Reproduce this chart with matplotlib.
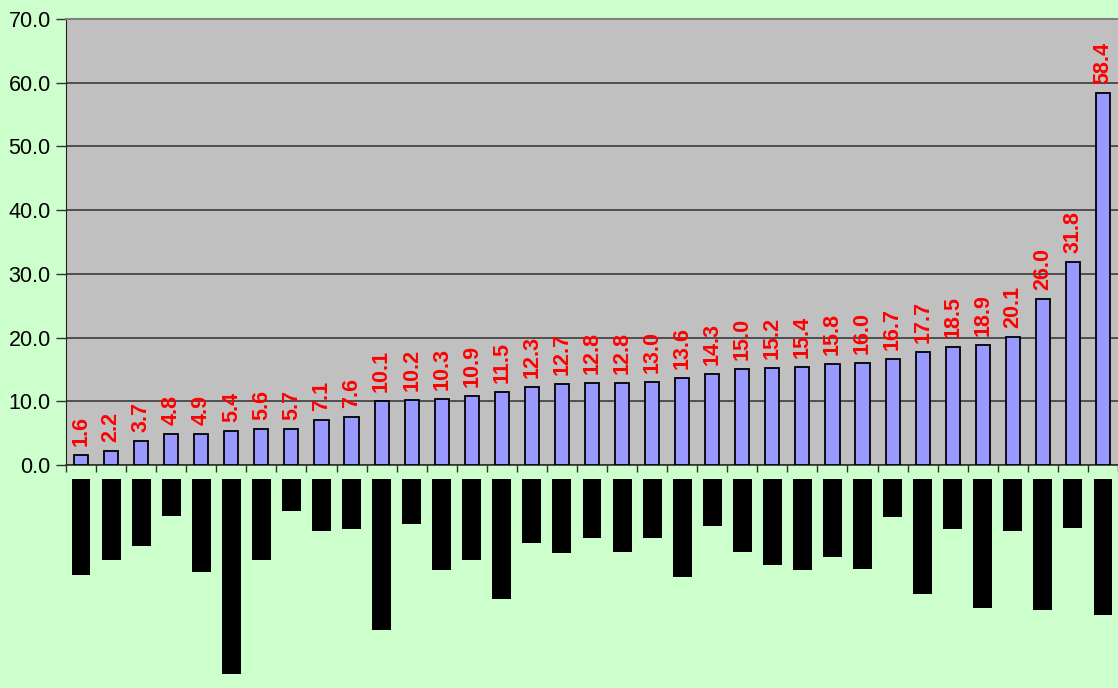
import matplotlib.pyplot as plt
import numpy as np

plt.rcParams['font.family'] = ['Liberation Sans', 'DejaVu Sans']

values = [1.6, 2.2, 3.7, 4.8, 4.9, 5.4, 5.6, 5.7, 7.1, 7.6,
          10.1, 10.2, 10.3, 10.9, 11.5, 12.3, 12.7, 12.8, 12.8, 13.0,
          13.6, 14.3, 15.0, 15.2, 15.4, 15.8, 16.0, 16.7, 17.7, 18.5,
          18.9, 20.1, 26.0, 31.8, 58.4]
# hidden category labels show up as black blocks; their lengths in px
label_len = [96, 81, 67, 37, 93, 195, 81, 32, 52, 50,
             151, 45, 91, 81, 120, 64, 74, 59, 73, 59,
             98, 47, 73, 86, 91, 78, 90, 38, 115, 50,
             129, 52, 131, 49, 136]
yticks = [0, 10, 20, 30, 40, 50, 60, 70]

W, H = 1118, 688
fig = plt.figure(figsize=(W/100, H/100), dpi=100)
fig.patch.set_facecolor('#CCFFCC')

x = np.arange(len(values))

ax = fig.add_axes([66/W, 1-465/H, 1-66/W, (465-19)/H])
ax.set_facecolor('#C0C0C0')
ax.set_xlim(-0.5, len(values)-0.5)
ax.set_ylim(0, 70)
ax.set_yticks(yticks)
ax.set_yticklabels(['%.1f' % v for v in yticks], fontsize=15.5)
ax.yaxis.grid(True, color='#303030', linewidth=1.1)
ax.set_axisbelow(True)
ax.tick_params(axis='y', length=7, width=1, color='#303030', pad=4)
ax.set_xticks([])
ax.set_xticks(np.arange(len(values)+1)-0.5, minor=True)
ax.tick_params(axis='x', which='minor', length=5, width=1, color='#303030', direction='out')
ax.spines['right'].set_visible(False)
ax.spines['top'].set_color('#808080')
ax.spines['top'].set_linewidth(1.5)
ax.spines['top'].set_zorder(5)
ax.spines['left'].set_color('#202020')
ax.spines['bottom'].set_color('#303030')
ax.spines['bottom'].set_linewidth(1.2)

ax.bar(x, values, width=0.47, color='#9999FF', edgecolor='black', linewidth=1.3, zorder=3)
for xi, v in zip(x, values):
    ax.annotate('%.1f' % v, (xi, v), xytext=(0, 9), textcoords='offset pixels',
                rotation=90, ha='center', va='bottom', color='red',
                fontsize=15.5, fontweight='bold', zorder=4)

ax2 = fig.add_axes([66/W, 0, 1-66/W, (H-479)/H])
ax2.set_xlim(-0.5, len(values)-0.5)
ax2.set_ylim(H-479, 0)
ax2.bar(x, label_len, width=0.63, color='black')
ax2.axis('off')

fig.savefig('out.png', dpi=100, facecolor=fig.get_facecolor())
